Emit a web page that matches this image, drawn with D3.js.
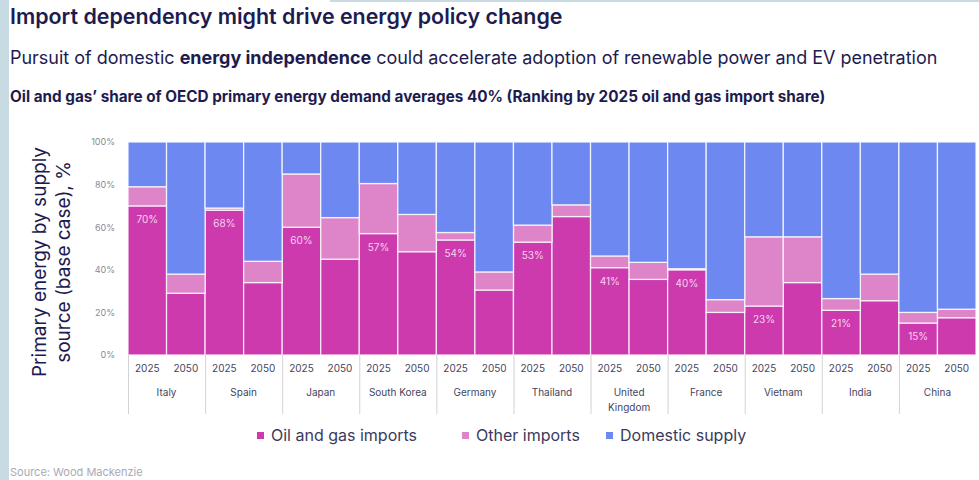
<!DOCTYPE html>
<html><head><meta charset="utf-8">
<script src="https://cdn.jsdelivr.net/npm/d3@7"></script>
<style>
html,body{margin:0;padding:0;background:#fff;}
svg{display:block;font-family:Inter, "Open Sans", sans-serif;}
</style></head>
<body>
<svg id="chart" width="979" height="480"></svg>
<script>
// ---- data ----
const countries = ["Italy","Spain","Japan","South Korea","Germany","Thailand","United Kingdom","France","Vietnam","India","China"];
const years = ["2025","2050"];
const oilGas2025 = [70,68,60,57,54,53,41,40,23,21,15];
const oilGas2050 = [29,34,45,48.5,30.5,65,35.5,20,34,25.5,17.5];
const other2025  = [9,1,25,23.5,3.5,8,5.5,0.5,32.5,5.5,5];
const other2050  = [9,10,19.5,17.5,8.5,5.5,8,6,21.5,12.5,4];
const seriesNames = ["Oil and gas imports","Other imports","Domestic supply"];
const yTicks = [0,20,40,60,80,100];

const colors = {"Oil and gas imports":"#cc3aae","Other imports":"#de84c9","Domestic supply":"#6e88f2"};
const navy = "#1d1b4f";

// build rows
const rows = [];
countries.forEach((c,i)=>{
  years.forEach(y=>{
    const og = y==="2025"?oilGas2025[i]:oilGas2050[i];
    const ot = y==="2025"?other2025[i]:other2050[i];
    rows.push({key:c+"|"+y, country:c, year:y, "Oil and gas imports":og, "Other imports":ot, "Domestic supply":100-og-ot});
  });
});

const svg = d3.select("#chart");
// frame strips
svg.append("rect").attr("x",0).attr("y",0).attr("width",9).attr("height",480).attr("fill","#c8dae2");
svg.append("rect").attr("x",330).attr("y",0).attr("width",649).attr("height",2).attr("fill","#c8dae2");

// fit text helper
function fit(sel, target){
  const w = sel.node().getComputedTextLength();
  const fs = parseFloat(sel.attr("font-size"));
  sel.attr("font-size", fs*target/w);
}

// headings
const t1 = svg.append("text").attr("x",10).attr("y",24).attr("font-size",20).attr("font-weight",600).attr("fill",navy)
  .text("Import dependency might drive energy policy change");
fit(t1, 553);
const t2 = svg.append("text").attr("x",10).attr("y",64).attr("font-size",17).attr("fill",navy);
t2.append("tspan").attr("font-weight",400).text("Pursuit of domestic ");
t2.append("tspan").attr("font-weight",700).text("energy independence");
t2.append("tspan").attr("font-weight",400).text(" could accelerate adoption of renewable power and EV penetration");
fit(t2, 928);
const t3 = svg.append("text").attr("x",10).attr("y",102).attr("font-size",14).attr("font-weight",700).attr("fill",navy)
  .text("Oil and gas’ share of OECD primary energy demand averages 40% (Ranking by 2025 oil and gas import share)");
fit(t3, 816);

// scales
const plotL = 128, plotR = 976, plotT = 142, plotB = 355;
const x = d3.scaleBand().domain(rows.map(d=>d.key)).range([plotL,plotR]).padding(0);
const xg = d3.scaleBand().domain(countries).range([plotL,plotR]).padding(0);
const y = d3.scaleLinear().domain([0,100]).range([plotB,plotT]);

const stack = d3.stack().keys(seriesNames)(rows);

svg.append("g").selectAll("g").data(stack).join("g")
  .attr("fill",d=>colors[d.key])
  .selectAll("rect").data(d=>d).join("rect")
  .attr("x",d=>x(d.data.key)).attr("width",x.bandwidth())
  .attr("y",d=>y(d[1])).attr("height",d=>y(d[0])-y(d[1]))
  .attr("stroke","#ffffff").attr("stroke-opacity",0.8).attr("stroke-width",1.3);

// value labels on 2025 bars
svg.append("g").selectAll("text").data(rows.filter(d=>d.year==="2025")).join("text")
  .attr("x",d=>x(d.key)+x.bandwidth()/2)
  .attr("y",d=>y(d["Oil and gas imports"])+17)
  .attr("text-anchor","middle").attr("font-size",10).attr("fill","#f6d3ef")
  .text(d=>d3.format("d")(d["Oil and gas imports"])+"%");

// y axis
const ya = svg.append("g").attr("transform",`translate(${plotL},0)`)
  .call(d3.axisLeft(y).tickValues(yTicks).tickSize(0).tickPadding(13).tickFormat(d=>d+"%"));
ya.select(".domain").remove();
ya.selectAll("text").attr("font-size",9).attr("fill","#8a8a99").attr("font-family","Inter, sans-serif");

// y title
const yt = svg.append("text").attr("transform","translate(41,262) rotate(-90)").attr("text-anchor","middle")
  .attr("font-size",19).attr("fill",navy).attr("dominant-baseline","middle");
yt.append("tspan").attr("x",0).attr("dy",0).text("Primary energy by supply");
yt.append("tspan").attr("x",0).attr("dy",24).text("source (base case), %");

// x axis years
const xa = svg.append("g").attr("transform",`translate(0,${plotB})`)
  .call(d3.axisBottom(x).tickSize(0).tickPadding(10).tickFormat(k=>k.split("|")[1]));
xa.select(".domain").remove();
xa.selectAll("text").attr("font-size",10).attr("fill","#45455e").attr("font-family","Inter, sans-serif");

// country labels
const cl = svg.append("g").selectAll("text").data(countries).join("text")
  .attr("x",d=>xg(d)+xg.bandwidth()/2).attr("y",396)
  .attr("text-anchor","middle").attr("font-size",10).attr("fill","#45455e");
cl.each(function(d){
  const el = d3.select(this);
  el.text(d);
  if(this.getComputedTextLength() > xg.bandwidth()-6){
    el.text(null);
    const words = d.split(" ");
    words.forEach((w,i)=>el.append("tspan").attr("x",xg(d)+xg.bandwidth()/2).attr("dy",i?15:0).text(w));
  }
});

// separators
svg.append("g").selectAll("line").data(countries).join("line")
  .attr("x1",d=>xg(d)+0.5).attr("x2",d=>xg(d)+0.5).attr("y1",plotB).attr("y2",414)
  .attr("stroke","#d2d2d8").attr("stroke-width",1);

// legend
const legendX = [257, 462, 606];
const lg = svg.append("g").selectAll("g").data(seriesNames).join("g")
  .attr("transform",(d,i)=>`translate(${legendX[i]},0)`);
lg.append("rect").attr("x",0).attr("y",432).attr("width",7).attr("height",7).attr("fill",d=>colors[d]);
lg.append("text").attr("x",14).attr("y",441).attr("font-size",16).attr("fill","#3b3a5c").text(d=>d);

// source
svg.append("text").attr("x",10).attr("y",476).attr("font-size",11).attr("fill","#a9a9b3").text("Source: Wood Mackenzie");
</script>
</body></html>
